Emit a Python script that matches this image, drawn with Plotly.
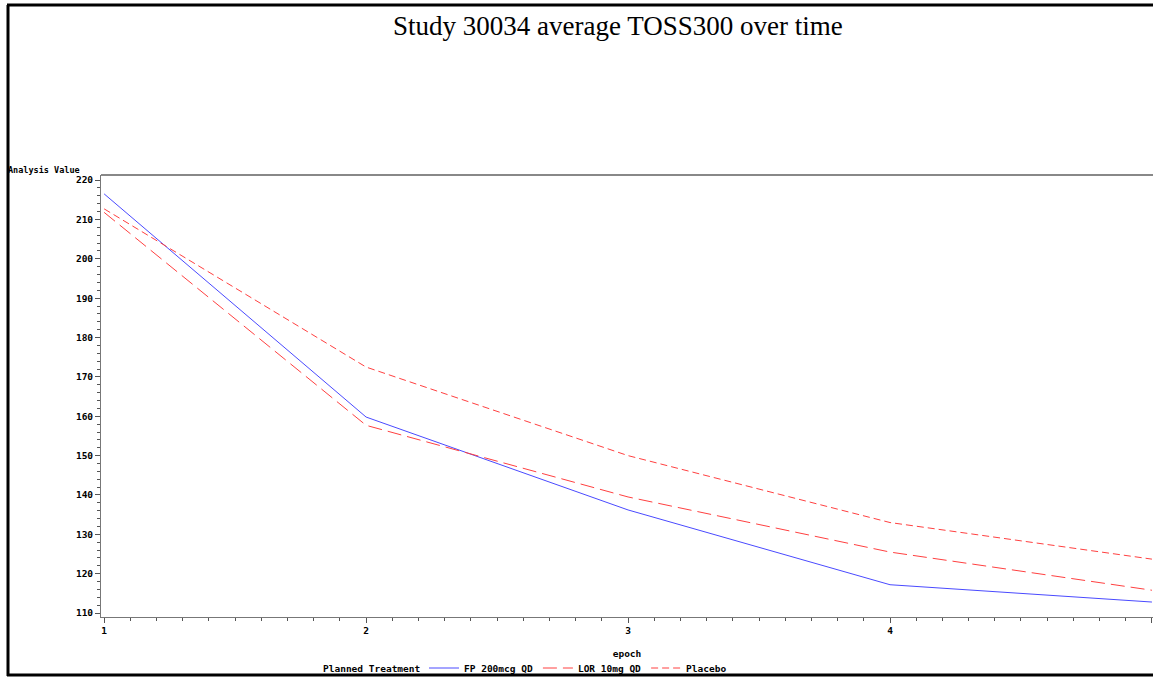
import plotly.graph_objects as go

epochs = [1, 2, 3, 4, 5]
fp_200mcg = [216.5, 159.8, 136.2, 117.2, 112.8]
lor_10mg = [211.8, 157.7, 139.5, 125.5, 115.8]
placebo = [212.7, 172.5, 150.0, 133.0, 123.7]

series_names = ["FP 200mcg QD", "LOR 10mg QD", "Placebo"]
y_ticks = [110, 120, 130, 140, 150, 160, 170, 180, 190, 200, 210, 220]
x_ticks = [1, 2, 3, 4, 5]

W, H = 1153, 677
L, R, T, B = 101, 0, 175, 60
pw = W - L - R
ph = H - T - B

def px_x(px):
    return (px - L) / pw

def px_y(py):
    return (H - B - py) / ph

tick_font = dict(family="DejaVu Sans Mono, monospace", size=9.5, color="black", weight="bold")
leg_font = dict(family="DejaVu Sans Mono, monospace", size=9.5, color="black", weight="bold")

fig = go.Figure()
fig.add_trace(go.Scatter(x=epochs, y=fp_200mcg, mode="lines", name=series_names[0],
                         line=dict(color="#4a4aff", width=1)))
fig.add_trace(go.Scatter(x=epochs, y=lor_10mg, mode="lines", name=series_names[1],
                         line=dict(color="#ff4040", width=1, dash="14px,6px")))
fig.add_trace(go.Scatter(x=epochs, y=placebo, mode="lines", name=series_names[2],
                         line=dict(color="#ff4040", width=1, dash="7px,4px")))

fig.update_layout(
    width=W, height=H,
    margin=dict(l=L, r=R, t=T, b=B, autoexpand=False),
    paper_bgcolor="white", plot_bgcolor="white",
    showlegend=True,
    legend=dict(
        orientation="h", x=px_x(424), y=px_y(668), xanchor="left", yanchor="middle",
        font=leg_font,
        itemwidth=30, bgcolor="rgba(0,0,0,0)", tracegroupgap=0,
    ),
    xaxis=dict(
        range=[0.988, 5.004], tickvals=x_ticks, ticktext=[str(v) for v in x_ticks],
        showgrid=False, zeroline=False, showline=True, linecolor="#777", linewidth=1,
        ticks="outside", ticklen=5, tickcolor="#555", tickfont=tick_font,
        minor=dict(dtick=0.1, ticks="outside", ticklen=3, tickcolor="#555", showgrid=False),
        title=dict(text="epoch", font=tick_font, standoff=14),
    ),
    yaxis=dict(
        range=[109.0, 221.3], tickvals=y_ticks, ticktext=[str(v) for v in y_ticks],
        showgrid=False, zeroline=False, showline=True, linecolor="#777", linewidth=1,
        ticks="outside", ticklen=5, tickcolor="#555", tickfont=tick_font,
        minor=dict(dtick=2, ticks="outside", ticklen=3, tickcolor="#555", showgrid=False),
    ),
    annotations=[
        dict(text="Study 30034 average TOSS300 over time", xref="paper", yref="paper",
             x=px_x(618), y=px_y(26), xanchor="center", yanchor="middle", showarrow=False,
             font=dict(family="Liberation Serif, Times New Roman, serif", size=27, color="black")),
        dict(text="Analysis Value", xref="paper", yref="paper",
             x=px_x(6), y=px_y(170), xanchor="left", yanchor="middle", showarrow=False,
             font=dict(family="DejaVu Sans Mono, monospace", size=8.5, color="black", weight="bold")),
        dict(text="Planned Treatment", xref="paper", yref="paper",
             x=px_x(321), y=px_y(668), xanchor="left", yanchor="middle", showarrow=False,
             font=leg_font),
    ],
    shapes=[
        dict(type="line", xref="paper", yref="paper", x0=0, x1=1.01, y0=1, y1=1,
             line=dict(color="#888", width=2)),
        dict(type="line", xref="paper", yref="paper", x0=px_x(8), x1=px_x(8), y0=px_y(5), y1=px_y(676),
             line=dict(color="black", width=3)),
        dict(type="line", xref="paper", yref="paper", x0=px_x(7), x1=1.05, y0=px_y(5), y1=px_y(5),
             line=dict(color="black", width=3)),
        dict(type="line", xref="paper", yref="paper", x0=px_x(7), x1=1.05, y0=px_y(675), y1=px_y(675),
             line=dict(color="black", width=3)),
    ],
)

fig.write_html("out.html", config={"displayModeBar": False},
               post_script="document.body.style.margin='0';")
